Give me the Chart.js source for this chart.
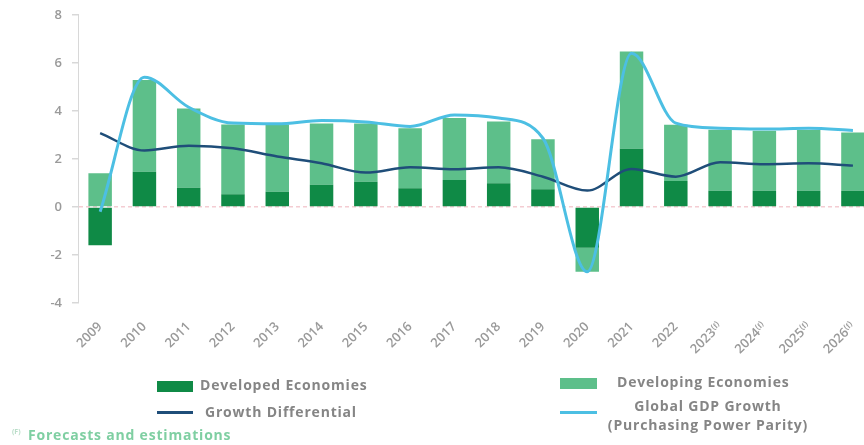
<!DOCTYPE html>
<html>
<head>
<meta charset="utf-8">
<script src="https://cdn.jsdelivr.net/npm/chart.js@4"></script>
<style>
  html, body { margin: 0; padding: 0; background: #fff; }
  #wrap { position: relative; width: 864px; height: 445px; overflow: hidden; font-family: 'Open Sans', sans-serif; }
  #c { position: absolute; left: 0; top: -3px; }
  .txt { position: absolute; font-weight: 700; font-size: 14px; line-height: 18px; letter-spacing: 0.8px; color: #858585; white-space: nowrap; }
  .sw { position: absolute; }
</style>
</head>
<body>
<div id="wrap">
  <canvas id="c" width="880" height="448" style="width:880px;height:448px"></canvas>

  <div class="sw" style="left:157px;top:381px;width:36px;height:11px;background:#0f8a46"></div>
  <div class="txt" style="left:200px;top:376px">Developed Economies</div>
  <div class="sw" style="left:157px;top:411px;width:36px;height:3px;background:#1f4e79"></div>
  <div class="txt" style="left:205px;top:403px">Growth Differential</div>

  <div class="sw" style="left:560px;top:378px;width:37px;height:11px;background:#5dbf8a"></div>
  <div class="txt" style="left:617px;top:373px">Developing Economies</div>
  <div class="sw" style="left:560px;top:411px;width:37px;height:3px;background:#4cbfe3"></div>
  <div class="txt" style="left:598px;top:396px;width:220px;text-align:center;line-height:19px">Global GDP Growth<br>(Purchasing Power Parity)</div>

  <div class="txt" style="left:12px;top:428px;font-size:7px;line-height:8px;letter-spacing:0;color:#b9ddc8">(F)</div>
  <div class="txt" style="left:28px;top:426px;color:#7fcfa2">Forecasts and estimations</div>
</div>

<script>
// Years on the horizontal axis; the last four are forecasts
const years = ['2009','2010','2011','2012','2013','2014','2015','2016','2017','2018','2019','2020','2021','2022','2023','2024','2025','2026'];
const forecast = [false,false,false,false,false,false,false,false,false,false,false,false,false,false,true,true,true,true];

// Contributions to growth (percentage points)
const developed  = [-1.6, 1.46, 0.80, 0.53, 0.63, 0.92, 1.05, 0.78, 1.12, 0.99, 0.74, -1.7, 2.42, 1.08, 0.67, 0.67, 0.67, 0.67];
const developing = [ 1.4, 3.83, 3.30, 2.90, 2.80, 2.55, 2.42, 2.50, 2.58, 2.57, 2.08, -1.0, 4.05, 2.34, 2.54, 2.50, 2.53, 2.43];

// Global GDP growth (PPP) and growth differential, %
const globalGrowth = [-0.2, 5.4, 4.15, 3.49, 3.46, 3.6, 3.54, 3.35, 3.83, 3.7, 2.86, -2.7, 6.4, 3.49, 3.28, 3.24, 3.28, 3.18];
const differential = [3.07, 2.35, 2.55, 2.44, 2.1, 1.82, 1.43, 1.65, 1.57, 1.65, 1.26, 0.68, 1.58, 1.26, 1.86, 1.78, 1.82, 1.72];

const yTicks = [-4, -2, 0, 2, 4, 6, 8];

const labels = years.map((y, i) => forecast[i] ? y + '⁽ᶠ⁾' : y);

new Chart(document.getElementById('c'), {
  type: 'bar',
  data: {
    labels: labels,
    datasets: [
      { type: 'line', label: 'Global GDP Growth', data: globalGrowth, stack: 'g', order: 0,
        borderColor: '#4cbfe3', borderWidth: 3, pointRadius: 0, cubicInterpolationMode: 'monotone', fill: false },
      { type: 'line', label: 'Growth Differential', data: differential, stack: 'd', order: 0,
        borderColor: '#1f4e79', borderWidth: 2.5, pointRadius: 0, cubicInterpolationMode: 'monotone', fill: false },
      { label: 'Developed Economies', data: developed, stack: 'bars', order: 1,
        backgroundColor: '#0f8a46', barPercentage: 0.53, categoryPercentage: 1 },
      { label: 'Developing Economies', data: developing, stack: 'bars', order: 1,
        backgroundColor: '#5dbf8a', barPercentage: 0.53, categoryPercentage: 1 }
    ]
  },
  options: {
    responsive: false,
    animation: false,
    devicePixelRatio: 1,
    layout: { padding: { top: 8, right: 1, left: 0, bottom: 0 } },
    plugins: { legend: { display: false }, tooltip: { enabled: false } },
    scales: {
      x: {
        stacked: true,
        offset: true,
        grid: { display: false, drawTicks: false },
        border: { display: false },
        ticks: {
          minRotation: 45, maxRotation: 45, padding: 16, autoSkip: false,
          color: '#9a9a9a', font: { family: 'Open Sans', size: 13, weight: '600' }
        },
        afterFit(scale) { scale.height = 142; }
      },
      y: {
        stacked: true,
        min: -4, max: 8,
        afterBuildTicks(scale) { scale.ticks = yTicks.map(v => ({ value: v })); },
        ticks: { padding: 10, color: '#9a9a9a', font: { family: 'Open Sans', size: 13, weight: '600' } },
        grid: {
          color: ctx => (ctx.tick && ctx.tick.value === 0) ? 'rgba(236,170,180,0.6)' : 'rgba(0,0,0,0)',
          tickColor: '#d8d8d8', tickLength: 6, lineWidth: 1.5
        },
        border: { color: '#d8d8d8', dash: [4, 3] },
        afterFit(scale) { scale.width = 78; }
      }
    }
  }
});
</script>
</body>
</html>
